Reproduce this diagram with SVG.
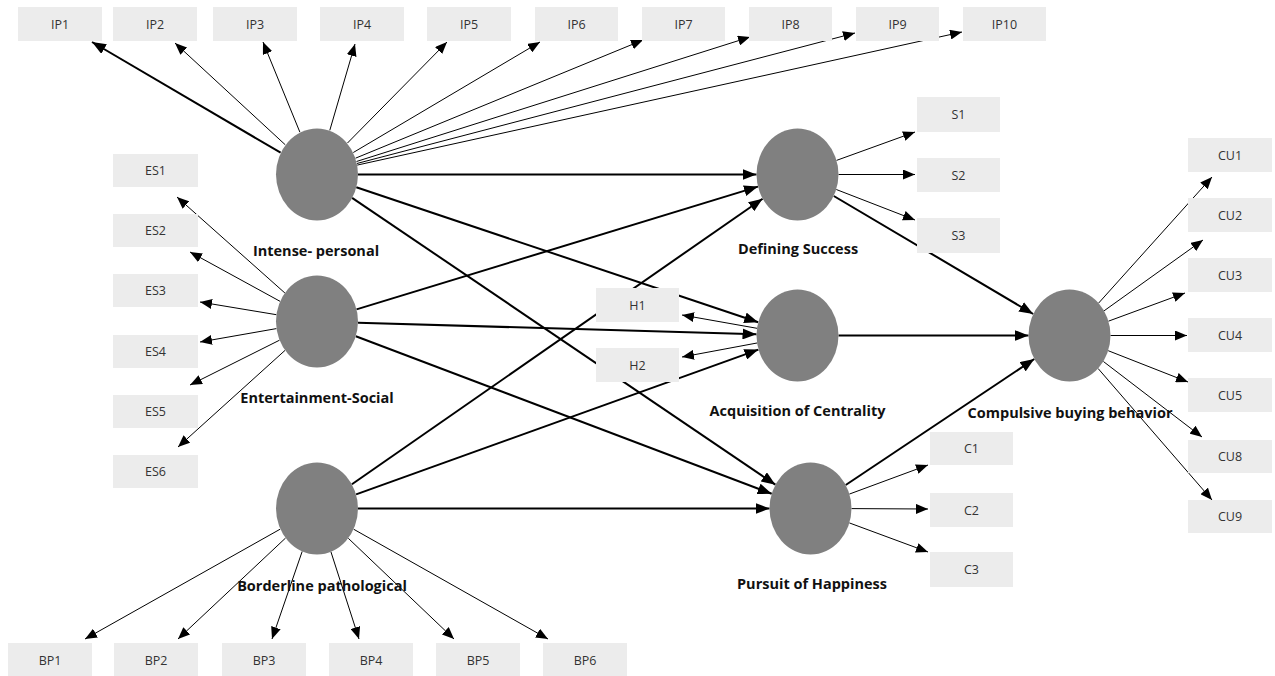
<svg xmlns="http://www.w3.org/2000/svg" width="1275" height="676" viewBox="0 0 1275 676">
<style>
.box{fill:#ececec;stroke:none}
.bt{font-family:"Open Sans","Liberation Sans",sans-serif;font-size:12.5px;fill:#333;text-anchor:middle;dominant-baseline:central}
.lv{fill:#808080;stroke:none}
.lt{font-family:"Open Sans","Liberation Sans",sans-serif;font-size:14.5px;font-weight:bold;fill:#111;text-anchor:middle;dominant-baseline:central}
.thin{stroke:#000;stroke-width:1;fill:none;marker-end:url(#a1)}
.thick{stroke:#000;stroke-width:2;fill:none;marker-end:url(#a2)}
</style>
<defs>
<marker id="a1" markerUnits="userSpaceOnUse" markerWidth="12" markerHeight="10" refX="12" refY="5" orient="auto"><path d="M0,0 L12,5 L0,10 z" fill="#000"/></marker>
<marker id="a2" markerUnits="userSpaceOnUse" markerWidth="14" markerHeight="11" refX="14" refY="5.5" orient="auto"><path d="M0,0 L14,5.5 L0,11 z" fill="#000"/></marker>
</defs>
<g id="connectors">
<line class="thick" x1="280.6" y1="152.7" x2="92" y2="42"/>
<line class="thin" x1="285.3" y1="144.8" x2="175" y2="43"/>
<line class="thin" x1="299.9" y1="132.2" x2="263" y2="42"/>
<line class="thin" x1="329.8" y1="130.3" x2="355" y2="44"/>
<line class="thin" x1="347.4" y1="143.1" x2="447" y2="42"/>
<line class="thin" x1="353.3" y1="152.5" x2="540" y2="42"/>
<line class="thin" x1="355.5" y1="158.2" x2="643" y2="40"/>
<line class="thin" x1="356.5" y1="161.5" x2="750" y2="37"/>
<line class="thin" x1="356.9" y1="163.5" x2="855" y2="33"/>
<line class="thin" x1="357.2" y1="165.1" x2="962" y2="32"/>
<line class="thin" x1="284.9" y1="293" x2="177" y2="197"/>
<line class="thin" x1="280.2" y1="301.4" x2="190" y2="252"/>
<line class="thin" x1="276.4" y1="314.7" x2="200" y2="302"/>
<line class="thin" x1="276.4" y1="328.6" x2="200" y2="342"/>
<line class="thin" x1="279.5" y1="340.2" x2="190" y2="385"/>
<line class="thin" x1="285" y1="350.4" x2="178" y2="447"/>
<line class="thin" x1="280.3" y1="529.1" x2="85" y2="639"/>
<line class="thin" x1="285.6" y1="538" x2="178" y2="639"/>
<line class="thin" x1="302.2" y1="551.4" x2="272" y2="639"/>
<line class="thin" x1="330.9" y1="551.7" x2="359" y2="639"/>
<line class="thin" x1="348.3" y1="538.3" x2="454" y2="639"/>
<line class="thin" x1="353.6" y1="529.2" x2="548" y2="639"/>
<line class="thick" x1="358" y1="174.5" x2="756.5" y2="174.5"/>
<line class="thick" x1="356.3" y1="187.2" x2="758.2" y2="322.3"/>
<line class="thick" x1="352.1" y1="197.8" x2="775.4" y2="484.7"/>
<line class="thick" x1="356.5" y1="309.4" x2="758" y2="186.6"/>
<line class="thick" x1="358" y1="322.7" x2="756.5" y2="334.3"/>
<line class="thick" x1="355.8" y1="336.2" x2="771.7" y2="493.8"/>
<line class="thick" x1="351.9" y1="484.3" x2="762.6" y2="198.7"/>
<line class="thick" x1="356.1" y1="494.4" x2="758.4" y2="349.6"/>
<line class="thick" x1="358" y1="508.5" x2="769.5" y2="508.5"/>
<line class="thick" x1="833.8" y1="196" x2="1033.2" y2="314"/>
<line class="thick" x1="838.5" y1="335.5" x2="1028.5" y2="335.5"/>
<line class="thick" x1="845.7" y1="485" x2="1034.3" y2="359"/>
<line class="thin" x1="836.5" y1="160.4" x2="915" y2="132"/>
<line class="thin" x1="838.5" y1="174.5" x2="915" y2="174.5"/>
<line class="thin" x1="836.3" y1="189.5" x2="915" y2="220"/>
<line class="thin" x1="757" y1="328.3" x2="682" y2="315"/>
<line class="thin" x1="757" y1="343" x2="682" y2="357"/>
<line class="thin" x1="849.3" y1="494.1" x2="928" y2="465"/>
<line class="thin" x1="851.5" y1="508.6" x2="928" y2="509"/>
<line class="thin" x1="849.3" y1="522.9" x2="928" y2="552"/>
<line class="thin" x1="1098.6" y1="303.1" x2="1212" y2="177"/>
<line class="thin" x1="1104.1" y1="310.8" x2="1203" y2="240"/>
<line class="thin" x1="1108.4" y1="321.2" x2="1185" y2="293"/>
<line class="thin" x1="1110.5" y1="335.5" x2="1187" y2="335.5"/>
<line class="thin" x1="1108.2" y1="350.7" x2="1188" y2="382"/>
<line class="thin" x1="1103.4" y1="361.5" x2="1202" y2="437"/>
<line class="thin" x1="1098.1" y1="368.5" x2="1212" y2="500"/>
</g>
<g id="IP1"><rect class="box" x="18" y="7" width="84" height="34"/><text class="bt" x="60" y="24">IP1</text></g>
<g id="IP2"><rect class="box" x="113" y="7" width="84" height="34"/><text class="bt" x="155" y="24">IP2</text></g>
<g id="IP3"><rect class="box" x="213" y="7" width="84" height="34"/><text class="bt" x="255" y="24">IP3</text></g>
<g id="IP4"><rect class="box" x="320" y="7" width="84" height="34"/><text class="bt" x="362" y="24">IP4</text></g>
<g id="IP5"><rect class="box" x="427" y="7" width="84" height="34"/><text class="bt" x="469" y="24">IP5</text></g>
<g id="IP6"><rect class="box" x="535" y="7" width="83" height="34"/><text class="bt" x="576.5" y="24">IP6</text></g>
<g id="IP7"><rect class="box" x="642" y="7" width="83" height="34"/><text class="bt" x="683.5" y="24">IP7</text></g>
<g id="IP8"><rect class="box" x="749" y="7" width="83" height="34"/><text class="bt" x="790.5" y="24">IP8</text></g>
<g id="IP9"><rect class="box" x="856" y="7" width="83" height="34"/><text class="bt" x="897.5" y="24">IP9</text></g>
<g id="IP10"><rect class="box" x="963" y="7" width="83" height="34"/><text class="bt" x="1004.5" y="24">IP10</text></g>
<g id="ES1"><rect class="box" x="113" y="154" width="85" height="33"/><text class="bt" x="155.5" y="170.5">ES1</text></g>
<g id="ES2"><rect class="box" x="113" y="214" width="85" height="33"/><text class="bt" x="155.5" y="230.5">ES2</text></g>
<g id="ES3"><rect class="box" x="113" y="274" width="85" height="33"/><text class="bt" x="155.5" y="290.5">ES3</text></g>
<g id="ES4"><rect class="box" x="113" y="335" width="85" height="33"/><text class="bt" x="155.5" y="351.5">ES4</text></g>
<g id="ES5"><rect class="box" x="113" y="395" width="85" height="33"/><text class="bt" x="155.5" y="411.5">ES5</text></g>
<g id="ES6"><rect class="box" x="113" y="455" width="85" height="33"/><text class="bt" x="155.5" y="471.5">ES6</text></g>
<g id="BP1"><rect class="box" x="8" y="643" width="84" height="34"/><text class="bt" x="50" y="660">BP1</text></g>
<g id="BP2"><rect class="box" x="114" y="643" width="84" height="34"/><text class="bt" x="156" y="660">BP2</text></g>
<g id="BP3"><rect class="box" x="222" y="643" width="84" height="34"/><text class="bt" x="264" y="660">BP3</text></g>
<g id="BP4"><rect class="box" x="329" y="643" width="84" height="34"/><text class="bt" x="371" y="660">BP4</text></g>
<g id="BP5"><rect class="box" x="436" y="643" width="84" height="34"/><text class="bt" x="478" y="660">BP5</text></g>
<g id="BP6"><rect class="box" x="543" y="643" width="84" height="34"/><text class="bt" x="585" y="660">BP6</text></g>
<g id="H1"><rect class="box" x="596" y="288" width="83" height="34"/><text class="bt" x="637.5" y="305">H1</text></g>
<g id="H2"><rect class="box" x="596" y="348" width="83" height="34"/><text class="bt" x="637.5" y="365">H2</text></g>
<g id="S1"><rect class="box" x="917" y="97" width="83" height="35"/><text class="bt" x="958.5" y="114.5">S1</text></g>
<g id="S2"><rect class="box" x="917" y="158" width="83" height="34"/><text class="bt" x="958.5" y="175">S2</text></g>
<g id="S3"><rect class="box" x="917" y="218" width="83" height="35"/><text class="bt" x="958.5" y="235.5">S3</text></g>
<g id="C1"><rect class="box" x="930" y="432" width="83" height="33"/><text class="bt" x="971.5" y="448.5">C1</text></g>
<g id="C2"><rect class="box" x="930" y="493" width="83" height="34"/><text class="bt" x="971.5" y="510">C2</text></g>
<g id="C3"><rect class="box" x="930" y="552" width="83" height="35"/><text class="bt" x="971.5" y="569.5">C3</text></g>
<g id="CU1"><rect class="box" x="1188" y="138" width="84" height="34"/><text class="bt" x="1230" y="155">CU1</text></g>
<g id="CU2"><rect class="box" x="1188" y="198" width="84" height="34"/><text class="bt" x="1230" y="215">CU2</text></g>
<g id="CU3"><rect class="box" x="1188" y="258" width="84" height="34"/><text class="bt" x="1230" y="275">CU3</text></g>
<g id="CU4"><rect class="box" x="1188" y="318" width="84" height="34"/><text class="bt" x="1230" y="335">CU4</text></g>
<g id="CU5"><rect class="box" x="1188" y="378" width="84" height="34"/><text class="bt" x="1230" y="395">CU5</text></g>
<g id="CU8"><rect class="box" x="1188" y="440" width="84" height="33"/><text class="bt" x="1230" y="456.5">CU8</text></g>
<g id="CU9"><rect class="box" x="1188" y="500" width="84" height="33"/><text class="bt" x="1230" y="516.5">CU9</text></g>
<g id="intense-personal"><ellipse class="lv" cx="317" cy="174.5" rx="41" ry="46"/><text class="lt" x="316" y="250">Intense- personal</text></g>
<g id="entertainment-social"><ellipse class="lv" cx="317" cy="321.5" rx="41" ry="46"/><text class="lt" x="317" y="397">Entertainment-Social</text></g>
<g id="borderline-pathological"><ellipse class="lv" cx="317" cy="508.5" rx="41" ry="46"/><text class="lt" x="322" y="585">Borderline pathological</text></g>
<g id="defining-success"><ellipse class="lv" cx="797.5" cy="174.5" rx="41" ry="46"/><text class="lt" x="798" y="248">Defining Success</text></g>
<g id="acquisition-of-centrality"><ellipse class="lv" cx="797.5" cy="335.5" rx="41" ry="46"/><text class="lt" x="797.5" y="410">Acquisition of Centrality</text></g>
<g id="pursuit-of-happiness"><ellipse class="lv" cx="810.5" cy="508.5" rx="41" ry="46"/><text class="lt" x="812" y="583">Pursuit of Happiness</text></g>
<g id="compulsive-buying-behavior"><ellipse class="lv" cx="1069.5" cy="335.5" rx="41" ry="46"/><text class="lt" x="1070" y="412">Compulsive buying behavior</text></g>
</svg>
